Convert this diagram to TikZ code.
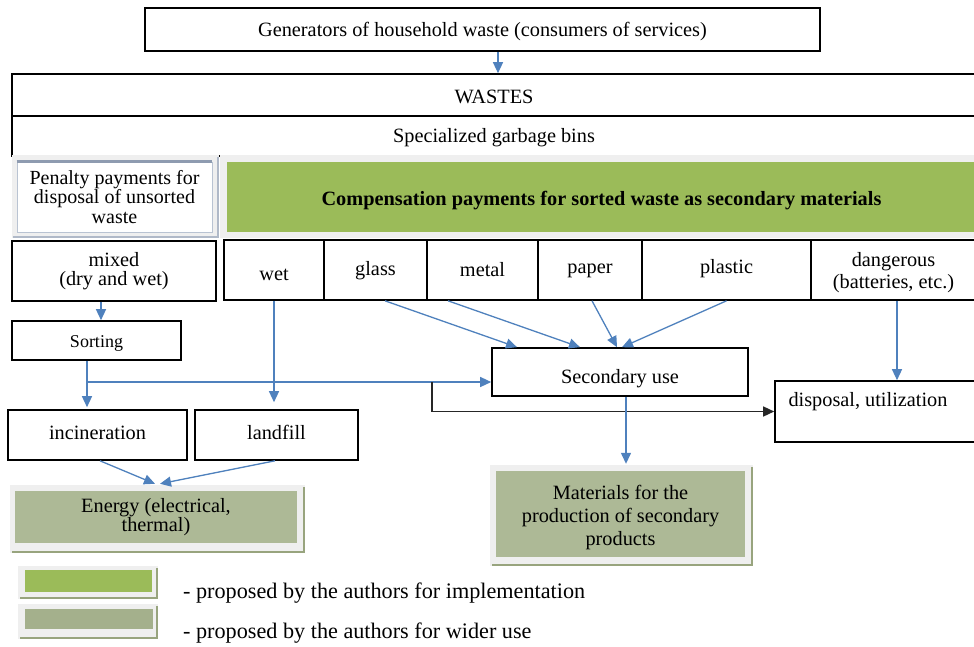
\documentclass[tikz,border=0pt]{standalone}
\usepackage{fontspec}
\setmainfont{Liberation Serif}
\usetikzlibrary{arrows.meta,calc}
\definecolor{grn}{HTML}{9BBB59}
\definecolor{olv}{HTML}{ADB996}
\definecolor{olvd}{HTML}{A4B08C}
\definecolor{olvs}{HTML}{98A47E}
\definecolor{arrblue}{HTML}{4F81BD}
\definecolor{framec}{HTML}{EFEFEF}
\definecolor{penb}{HTML}{B9C3D2}
\definecolor{penbt}{HTML}{8E9BB0}
\newcommand\shiftdn[2]{\raisebox{#1}[\height][\depth]{#2}}
\begin{document}
\begin{tikzpicture}[x=1pt,y=-1pt,
  box/.style={draw=black, line width=1.6pt, fill=white, inner sep=0pt, align=center,
    font=\fontsize{20.3}{21}\selectfont},
  txt/.style={inner sep=0pt, align=center, font=\fontsize{20.3}{21}\selectfont},
  shaded/.style={inner sep=0pt, align=center, font=\fontsize{20.3}{21}\selectfont},
  arr/.style={draw=arrblue, line width=1.3pt, -{Triangle[length=11pt,width=10pt]}},
  blk/.style={draw=black!85, line width=1.4pt, -{Triangle[length=11pt,width=10pt]}},
  frm/.style={fill=framec},
  shd/.style={draw=olvs, line width=2pt}
]
\useasboundingbox (0,0) rectangle (974,646);

% top
\node[box, minimum width=675pt, minimum height=43pt] (gen) at (482.5,29.5)
  {\shiftdn{-2pt}{Generators of household waste (consumers of services)}};
\node[box, minimum width=964pt, minimum height=42pt] (wastes) at (494,95) {\shiftdn{-2pt}{WASTES}};
\node[box, minimum width=964pt, minimum height=40pt] (bins) at (494,136) {\shiftdn{-2pt}{Specialized garbage bins}};

% penalty
\fill[frm] (12,155) rectangle (219,238);
\draw[penbt!70, line width=2pt] (13,237) -- (218,237) -- (218,157);
\node[draw=penb, line width=0.8pt, fill=white, minimum width=195pt, minimum height=70pt,
  shaded, font=\fontsize{20}{19.5}\selectfont] (pen) at (114.5,197)
  {Penalty payments for\\disposal of unsorted\\waste};
\draw[penbt, line width=2.5pt] (pen.north west) -- (pen.north east);

% compensation
\fill[frm] (220,155) rectangle (976,238);
\node[fill=grn, minimum width=749pt, minimum height=70pt, shaded,
  font=\fontsize{20.3}{21}\selectfont\bfseries] (comp) at (601.5,197)
  {\shiftdn{-4pt}{Compensation payments for sorted waste as secondary materials}};

% categories
\node[box, minimum width=204pt, minimum height=60pt, font=\fontsize{20.3}{19.5}\selectfont] (mixed) at (114,271) {mixed\\(dry and wet)};
\node[box, minimum width=100pt, minimum height=60pt] (wet) at (274,270) {\shiftdn{-5pt}{wet}};
\node[box, minimum width=103pt, minimum height=60pt] (glass) at (375.5,270) {\shiftdn{-1pt}{glass}};
\node[box, minimum width=111pt, minimum height=60pt] (metal) at (482.5,270) {metal};
\node[box, minimum width=104pt, minimum height=60pt] (paper) at (590,270) {\shiftdn{-1pt}{paper}};
\node[box, minimum width=169pt, minimum height=60pt] (plastic) at (726.5,270) {\shiftdn{1pt}{plastic}};
\node[box, minimum width=165pt, minimum height=60pt] (dang) at (893.5,270) {};
\node[txt, font=\fontsize{20.3}{22}\selectfont] (dangt) at (893.5,273) {dangerous\\(batteries, etc.)};

% process boxes
\node[box, minimum width=169pt, minimum height=39pt, font=\fontsize{18}{19}\selectfont] (sort) at (96.5,340.5) {\shiftdn{-3pt}{Sorting}};
\node[box, minimum width=179pt, minimum height=50pt] (incin) at (97.5,435) {\shiftdn{2pt}{incineration}};
\node[box, minimum width=163pt, minimum height=50pt] (land) at (276.5,435) {\shiftdn{3pt}{landfill}};
\node[box, minimum width=256pt, minimum height=48pt] (sec) at (620,372) {\shiftdn{-7pt}{Secondary use}};
\node[box, minimum width=201pt, minimum height=61pt] (disp) at (875.5,411.5) {};
\node[txt] (dispt) at (868,402) {disposal, utilization};

% energy
\fill[frm] (10,485) rectangle (305,553);
\draw[shd] (12,552) -- (304,552) -- (304,487);
\node[fill=olv, minimum width=282pt, minimum height=52pt, shaded,
  font=\fontsize{20.3}{17}\selectfont] (energy) at (156,517) {Energy (electrical,\\thermal)};

% materials
\fill[frm] (490,465) rectangle (753,566);
\draw[shd] (492,565) -- (752,565) -- (752,467);
\node[fill=olv, minimum width=249pt, minimum height=86pt] (mat) at (620.5,514) {};
\node[txt, font=\fontsize{20.3}{23}\selectfont] (matt) at (620.5,518)
  {Materials for the\\production of secondary\\products};

% legend
\fill[frm] (18,566) rectangle (158,599);
\draw[shd] (20,598) -- (157,598) -- (157,568);
\node[fill=grn, minimum width=127pt, minimum height=22pt, inner sep=0pt] (leg1) at (88.5,581) {};
\fill[frm] (18,604) rectangle (158,639);
\draw[shd] (20,638) -- (157,638) -- (157,606);
\node[fill=olvd, minimum width=128pt, minimum height=20pt, inner sep=0pt] (leg2) at (89,619) {};
\node[txt, anchor=west, font=\fontsize{22.2}{23}\selectfont] (leg1t) at (183,593) {- proposed by the authors for implementation};
\node[txt, anchor=west, font=\fontsize{22.2}{23}\selectfont] (leg2t) at (183,633) {- proposed by the authors for wider use};

% connectors
\draw[arr] ([xshift=15.5pt]gen.south) -- ([xshift=4pt]wastes.north);
\draw[arr] ([xshift=-13pt]mixed.south) -- ([xshift=4.5pt]sort.north);
\draw[arr] ([xshift=-9.5pt]sort.south) -- ([xshift=-10.5pt,yshift=2pt]incin.north);
\coordinate (j1) at (87,382);
\coordinate (j2) at (432,382);
\draw[arr] (j1) -- (j1 -| sec.west);
\draw[blk] (j2) |- (disp.west);
\draw[arr, shorten >=7pt] (wet.south) -- (wet.south |- land.north);
\draw[arr] ([xshift=9.5pt]glass.south) -- ([xshift=-103pt]sec.north);
\draw[arr] ([xshift=-34.5pt]metal.south) -- ([xshift=-40pt]sec.north);
\draw[arr] ([xshift=2pt]paper.south) -- ([xshift=-3pt]sec.north);
\draw[arr] (plastic.south) -- ([xshift=2pt]sec.north);
\draw[arr] ([xshift=3.5pt]dang.south) -- ([xshift=21.5pt]disp.north);
\draw[arr] ([xshift=6pt]sec.south) -- ([xshift=5.5pt,yshift=7pt]mat.north);
\draw[arr] ([xshift=2.5pt]incin.south) -- ([xshift=-1pt,yshift=7pt]energy.north);
\draw[arr] ([xshift=-1.5pt]land.south) -- ([xshift=4pt,yshift=7pt]energy.north);
\end{tikzpicture}
\end{document}
